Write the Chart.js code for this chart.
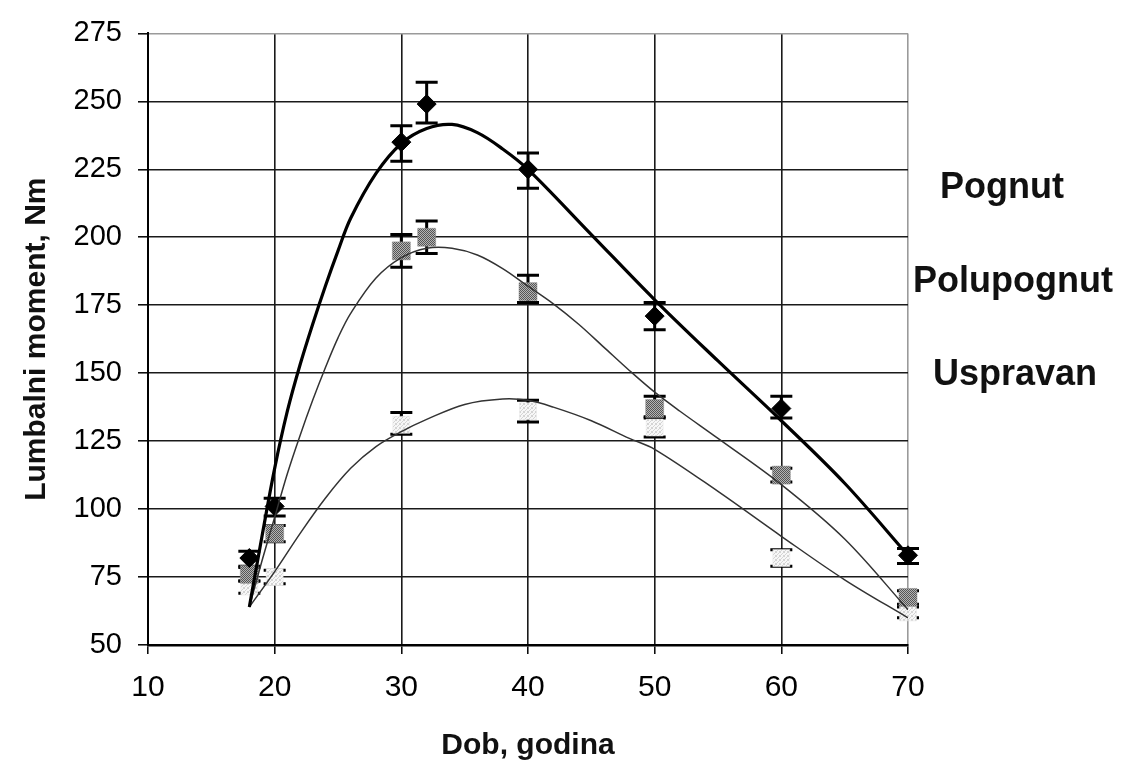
<!DOCTYPE html>
<html>
<head>
<meta charset="utf-8">
<title>Lumbalni moment po dobi</title>
<script src="https://cdn.jsdelivr.net/npm/chart.js@4.4.1/dist/chart.umd.min.js"></script>
<style>
  html, body { margin: 0; padding: 0; background: #fff; }
  #wrap { position: relative; width: 1137px; height: 778px; overflow: hidden; }
  #chart { position: absolute; left: 0; top: 0; }
  .series-name {
    position: absolute;
    font: bold 36px "Liberation Sans", Arial, sans-serif;
    line-height: 1;
    color: #111;
    white-space: nowrap;
  }
</style>
</head>
<body>
<div id="wrap">
  <canvas id="chart" width="1137" height="778"></canvas>
  <div class="series-name" style="left:940px; top:168px;">Pognut</div>
  <div class="series-name" style="left:913px; top:262px;">Polupognut</div>
  <div class="series-name" style="left:933px; top:355px;">Uspravan</div>
</div>

<script>
/* -------------------------------------------------------------
   Lumbalni moment (Nm) prema dobi — tri položaja tijela
   točke = mjerenja s rasponom, linije = trend
   ------------------------------------------------------------- */

// ---- axes ---------------------------------------------------
const ageTicks    = [10, 20, 30, 40, 50, 60, 70];
const momentTicks = [50, 75, 100, 125, 150, 175, 200, 225, 250, 275];

// ---- measured points ----------------------------------------
const sampleAges  = [18, 20, 30, 32, 40, 50, 60, 70];

const pognut      = [82, 101, 235, 249, 225, 171, 137, 83];
const pognutHigh  = [84.5, 104, 241, 257, 231, 176, 141.5, 85.5];
const pognutLow   = [79, 97.5, 228, 242, 218, 166, 133.5, 80];

const polupognut     = [76, 91, 195, 200, 180, 137, 112.5, 67.5];
const polupognutHigh = [78.5, 94, 201, 206, 186, 141.5, 115, 70];
const polupognutLow  = [73.5, 88, 189, 194, 176, 133.5, 110, 65];

const uspravanAges = [18, 20, 30, 40, 50, 60, 70];
const uspravan     = [71.5, 75, 131, 136, 130, 82, 62];
const uspravanHigh = [73.5, 77.5, 135.5, 140, 134, 85, 64];
const uspravanLow  = [69, 72.5, 127.5, 132, 126.5, 79, 60];

// ---- trend curves -------------------------------------------
const pognutCurveAges = [18, 19, 20, 21, 22, 23, 24, 25, 26, 28, 30, 32, 34, 36, 38, 40, 45, 50, 55, 60, 65, 70];
const pognutCurve     = [64, 90, 115, 136, 153, 168, 182, 195, 207, 223.5, 234.5, 240, 241.5, 238.5, 232.5, 225, 201, 177, 154.5, 132.5, 109.5, 83];

const polupognutCurveAges = [18, 19, 20, 21, 22, 23, 24, 25, 26, 28, 30, 32, 34, 36, 38, 40, 42, 44, 46, 48, 50, 52, 55, 60, 65, 70];
const polupognutCurve     = [64, 81, 97, 113, 127, 140, 152, 163, 172, 185, 192.5, 196, 196, 193.5, 188.5, 182, 175.5, 168, 159.5, 151, 143, 136, 126, 109, 89, 63];

const uspravanCurveAges = [18, 20, 22, 24, 26, 28, 30, 32, 35, 38, 40, 42, 45, 48, 50, 55, 60, 65, 70];
const uspravanCurve     = [64, 77, 91, 104, 115, 123, 128.5, 133, 138.5, 140.5, 140, 137.5, 132.5, 126, 122, 106.5, 90, 74, 60];

// =============================================================
// HELPERS
// =============================================================
const toPoints = (xs, ys) => xs.map((x, i) => ({ x, y: ys[i] }));

// small dotted fill, like the halftone squares of the scan
const makePattern = (size, dark, light, every) => {
  const c = document.createElement("canvas");
  c.width = size; c.height = size;
  const g = c.getContext("2d");
  g.fillStyle = light;
  g.fillRect(0, 0, size, size);
  g.fillStyle = dark;
  for (let y = 0; y < size; y++) {
    for (let x = 0; x < size; x++) {
      if ((x + y) % every === 0) g.fillRect(x, y, 1, 1);
    }
  }
  return g.createPattern(c, "repeat");
};

const FONT = '"Liberation Sans", Arial, sans-serif';

// =============================================================
// PLUGIN — vertical error bars with caps
// =============================================================
const errorBars = {
  id: "errorBars",
  beforeDatasetsDraw(chart) {
    const { ctx, scales: { x, y } } = chart;
    ctx.save();
    ctx.strokeStyle = "#000";
    ctx.lineWidth = 3;
    ctx.lineCap = "butt";
    chart.data.datasets.forEach((ds) => {
      if (!ds.errLow) return;
      ds.data.forEach((p, i) => {
        const px = x.getPixelForValue(p.x);
        const hi = y.getPixelForValue(ds.errHigh[i]);
        const lo = y.getPixelForValue(ds.errLow[i]);
        const half = 11;
        ctx.beginPath();
        ctx.moveTo(px, hi); ctx.lineTo(px, lo);
        ctx.moveTo(px - half, hi); ctx.lineTo(px + half, hi);
        ctx.moveTo(px - half, lo); ctx.lineTo(px + half, lo);
        ctx.stroke();
      });
    });
    ctx.restore();
  },
};

// =============================================================
// CHART
// =============================================================
const ctx = document.getElementById("chart").getContext("2d");
const grayFill  = makePattern(4, "#555", "#b4b4b4", 2);
const lightFill = makePattern(4, "#d4d4d4", "#f7f7f7", 3);

const gridColor = (last) => (c) => (c.tick && c.tick.value === last ? "#9a9a9a" : "#1a1a1a");

const trend = (label, xs, ys, color, width) => ({
  type: "line", label, order: 1,
  data: toPoints(xs, ys),
  borderColor: color, borderWidth: width,
  pointRadius: 0, fill: false, tension: 0.35,
});

new Chart(ctx, {
  type: "scatter",
  data: {
    datasets: [
      // trend lines (order 1 → drawn above markers)
      trend("Pognut trend",     pognutCurveAges,     pognutCurve,     "#000", 3.2),
      trend("Polupognut trend", polupognutCurveAges, polupognutCurve, "#333", 1.5),
      trend("Uspravan trend",   uspravanCurveAges,   uspravanCurve,   "#333", 1.5),
      // measured points
      {
        label: "Pognut", order: 2, clip: false,
        data: toPoints(sampleAges, pognut),
        errHigh: pognutHigh, errLow: pognutLow,
        pointStyle: "rectRot", pointRadius: 9.5,
        backgroundColor: "#000", borderColor: "#000", borderWidth: 1,
      },
      {
        label: "Polupognut", order: 2, clip: false,
        data: toPoints(sampleAges, polupognut),
        errHigh: polupognutHigh, errLow: polupognutLow,
        pointStyle: "rect", pointRadius: 12.7,
        backgroundColor: grayFill, borderColor: "#8a8a8a", borderWidth: 0.5,
      },
      {
        label: "Uspravan", order: 2, clip: false,
        data: toPoints(uspravanAges, uspravan),
        errHigh: uspravanHigh, errLow: uspravanLow,
        pointStyle: "rect", pointRadius: 12,
        backgroundColor: lightFill, borderColor: "#e6e6e6", borderWidth: 0.5,
      },
    ],
  },
  options: {
    responsive: false,
    animation: false,
    devicePixelRatio: 1,
    layout: { padding: { left: 0, top: 26, right: 229, bottom: 0 } },
    plugins: {
      legend:  { display: false },
      tooltip: { enabled: false },
    },
    scales: {
      x: {
        type: "linear",
        min: ageTicks[0],
        max: ageTicks[ageTicks.length - 1],
        afterBuildTicks: (s) => { s.ticks = ageTicks.map((v) => ({ value: v })); },
        afterFit: (s) => { s.height = 133; },
        ticks: {
          color: "#000",
          padding: 16,
          font: { family: FONT, size: 30 },
        },
        grid: {
          color: gridColor(70),
          lineWidth: 1.6,
          tickLength: 9,
          tickColor: "#000",
          tickWidth: 1.5,
        },
        border: { color: "#000", width: 2.5 },
        title: {
          display: true,
          text: "Dob, godina",
          color: "#111",
          font: { family: FONT, size: 30, weight: "bold" },
          padding: { top: 0, bottom: 14 },
        },
      },
      y: {
        min: momentTicks[0],
        max: momentTicks[momentTicks.length - 1],
        afterBuildTicks: (s) => { s.ticks = momentTicks.map((v) => ({ value: v })); },
        afterFit: (s) => { s.width = 148; },
        ticks: {
          color: "#000",
          padding: 16,
          font: { family: FONT, size: 29 },
        },
        grid: {
          color: gridColor(275),
          lineWidth: 1.6,
          tickLength: 10,
          tickColor: "#000",
          tickWidth: 1.5,
        },
        border: { color: "#000", width: 2 },
        title: {
          display: true,
          text: "Lumbalni moment, Nm",
          color: "#111",
          font: { family: FONT, size: 30, weight: "bold" },
          padding: { top: 19, bottom: 0 },
        },
      },
    },
  },
  plugins: [errorBars],
});
</script>
</body>
</html>
